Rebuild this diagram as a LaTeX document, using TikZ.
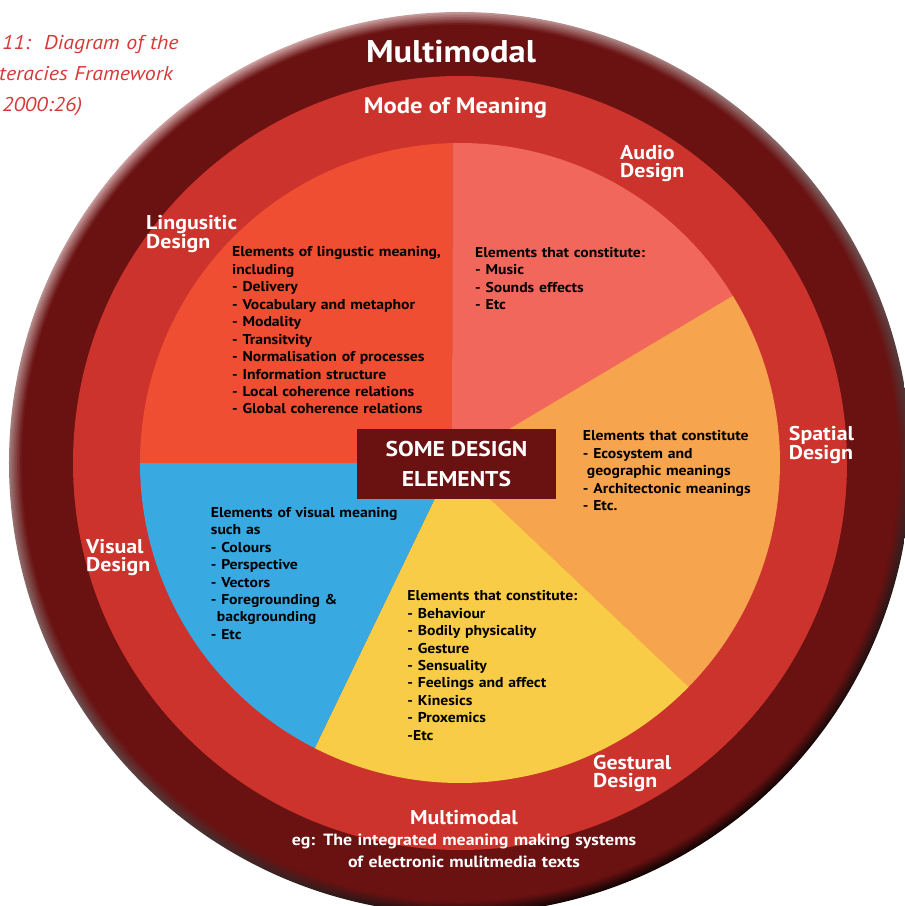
\documentclass[tikz,border=0pt]{standalone}
\usepackage{fontspec}
\setmainfont{PT Sans}[FakeStretch=1.1]

\definecolor{rimdark}{RGB}{106,17,17}
\definecolor{rimlight}{RGB}{205,160,160}
\definecolor{rimshadow}{RGB}{20,3,3}
\definecolor{modered}{RGB}{203,51,44}
\definecolor{lingcol}{RGB}{239,78,50}
\definecolor{audiocol}{RGB}{242,103,92}
\definecolor{spatialcol}{RGB}{247,164,78}
\definecolor{gestcol}{RGB}{248,204,70}
\definecolor{visualcol}{RGB}{57,170,225}
\definecolor{captioncol}{RGB}{214,58,56}

\begin{document}
\begin{tikzpicture}[x=1bp, y=1bp,
    title/.style={text=white, inner sep=0pt, font=\fontsize{31.5}{31.5}\selectfont\bfseries},
    mode/.style={text=white, inner sep=0pt, font=\fontsize{22.5}{22.5}\selectfont\bfseries},
    design/.style={text=white, inner sep=0pt, anchor=base west, align=left, text width=120bp,
                   font=\fontsize{20}{18.4}\selectfont\bfseries},
    elements/.style={text=black, inner sep=0pt, anchor=base west, align=left, text width=280bp,
                     font=\fontsize{14.3}{17.5}\selectfont\bfseries},
    core/.style={fill=rimdark, text=white, inner sep=0pt, minimum width=199bp, minimum height=70bp,
                 align=center, font=\fontsize{21.5}{29.3}\selectfont\bfseries},
    caption/.style={text=captioncol, inner sep=0pt, anchor=base west, align=left, text width=220bp,
                    font=\fontsize{20}{30.8}\selectfont\itshape}
]

    % Frame
    \useasboundingbox (-460,-443) rectangle (445,463);
    \clip (-460,-443) rectangle (445,463);

    % Outer ring with soft rim
    \foreach \k in {0,...,7} {
        \pgfmathtruncatemacro\tint{100-13*\k}
        \shade[top color=rimlight!\tint!rimdark, middle color=rimdark,
               bottom color=rimshadow!\tint!rimdark, shading angle=30]
            (0,0) circle[radius=451-1.6*\k];
    }
    \fill[rimdark] (0,0) circle[radius=438];

    % Mode of meaning ring
    \fill[modered] (0,0) circle[radius=387];

    % Sectors
    \fill[lingcol] (-8,0) -- (91.3:320) arc[start angle=91.3, end angle=180, radius=320] -- cycle;
    \fill[audiocol] (-8,0) -- (31.5:320) arc[start angle=31.5, end angle=91.3, radius=320] -- cycle;
    \fill[spatialcol] (-8,0) -- (-44.4:320) arc[start angle=-44.4, end angle=31.5, radius=320] -- cycle;
    \fill[gestcol] (-8,0) -- (-117:320) arc[start angle=-117, end angle=-44.4, radius=320] -- cycle;
    \fill[visualcol] (-8,0) -- (180:320) arc[start angle=180, end angle=243, radius=320] -- cycle;

    % Centre box
    \node[core] (core) at (-3.5,-1) {SOME DESIGN\\ELEMENTS};

    % Ring titles
    \node[title, anchor=base] (multitop) at (-9,400.3) {Multimodal};
    \node[mode, anchor=base] (mode) at (-4.5,349) {Mode of Meaning};

    % Design labels
    \node[design] (lingdesign) at (-314,233.7) {Lingusitic\\Design};
    \node[design] (audiodesign) at (160,303.5) {Audio\\Design};
    \node[design] (spatialdesign) at (328.7,22) {Spatial\\Design};
    \node[design] (visualdesign) at (-374,-90.3) {Visual\\Design};
    \node[design] (gestdesign) at (133,-306.5) {Gestural\\Design};

    % Sector contents
    \node[elements] (lingtext) at (-228,206) {Elements of lingustic meaning,\\including\\- Delivery\\- Vocabulary and metaphor\\- Modality\\- Transitvity\\- Normalisation of processes\\- Information structure\\- Local coherence relations\\- Global coherence relations};
    \node[elements] (audiotext) at (15,205.5) {Elements that constitute:\\- Music\\- Sounds effects\\- Etc};
    \node[elements] (spatialtext) at (122.7,22.3) {Elements that constitute\\- Ecosystem and\\\hspace*{4bp}geographic meanings\\- Architectonic meanings\\- Etc.};
    \node[elements] (visualtext) at (-249.3,-54.3) {Elements of visual meaning\\such as\\- Colours\\- Perspective\\- Vectors\\- Foregrounding \&\\\hspace*{6bp}backgrounding\\- Etc};
    \node[elements] (gesttext) at (-52.7,-137.7) {Elements that constitute:\\- Behaviour\\- Bodily physicality\\- Gesture\\- Sensuality\\- Feelings and affect\\- Kinesics\\- Proxemics\\-Etc};

    % Bottom text
    \node[design, anchor=base, align=center, text width=200bp] (multibot) at (4,-361) {Multimodal};
    \node[design, anchor=base, align=center, text width=420bp,
          font=\fontsize{16.3}{21.6}\selectfont\bfseries] (example) at (4,-382.7)
          {eg: The integrated meaning making systems\\of electronic mulitmedia texts};

    % Caption
    \node[caption] (caption) at (-458,413) {11:\ \ Diagram of the\\\hspace*{-3bp}teracies Framework\\2000:26)};

\end{tikzpicture}
\end{document}
